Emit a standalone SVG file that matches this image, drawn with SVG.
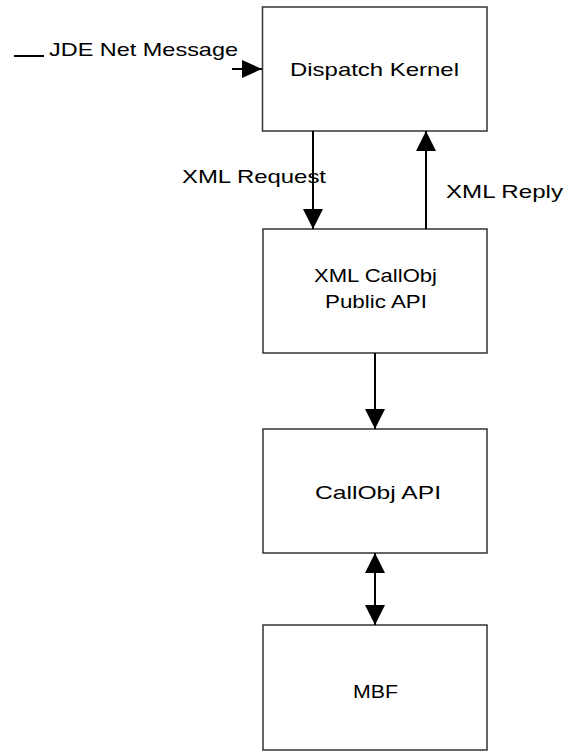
<svg xmlns="http://www.w3.org/2000/svg" width="566" height="751" viewBox="0 0 566 751">
<style>
.box{fill:#fff;stroke:#333;stroke-width:1.5}
.lbl{font-family:"Liberation Sans",Arial,sans-serif;font-size:18.5px;fill:#000}
.ln{stroke:#000;stroke-width:2;fill:none}
</style>
<defs>
<marker id="ah" markerUnits="userSpaceOnUse" markerWidth="20" markerHeight="20" refX="20" refY="10" viewBox="0 0 20 20" orient="auto-start-reverse">
<path d="M0,0 L20,10 L0,20 Z" fill="#000"/>
</marker>
<marker id="ahs" markerUnits="userSpaceOnUse" markerWidth="20" markerHeight="18" refX="20" refY="9" viewBox="0 0 20 18" orient="auto">
<path d="M0,0 L20,9 L0,18 Z" fill="#000"/>
</marker>
</defs>
<rect width="566" height="751" fill="#fff"/>
<g id="dispatch-kernel">
<rect class="box" x="262.5" y="7" width="224.5" height="124"/>
<text class="lbl" x="290" y="76" textLength="169" lengthAdjust="spacingAndGlyphs">Dispatch Kernel</text>
</g>
<g id="xml-callobj">
<rect class="box" x="263" y="229" width="224" height="124"/>
<text class="lbl" x="314" y="282" textLength="123" lengthAdjust="spacingAndGlyphs">XML CallObj</text>
<text class="lbl" x="325" y="308" textLength="102" lengthAdjust="spacingAndGlyphs">Public API</text>
</g>
<g id="callobj-api">
<rect class="box" x="263" y="429" width="224" height="124"/>
<text class="lbl" x="315" y="499" textLength="126" lengthAdjust="spacingAndGlyphs">CallObj API</text>
</g>
<g id="mbf">
<rect class="box" x="263" y="625" width="224" height="125"/>
<text class="lbl" x="353" y="698" textLength="45" lengthAdjust="spacingAndGlyphs">MBF</text>
</g>
<g id="connectors">
<line class="ln" x1="14" y1="56" x2="44" y2="56" stroke-width="1.5"/>
<text class="lbl" x="49" y="56" textLength="189" lengthAdjust="spacingAndGlyphs">JDE Net Message</text>
<line class="ln" x1="232" y1="69" x2="262" y2="69" marker-end="url(#ahs)"/>
<line class="ln" x1="313" y1="131" x2="313" y2="229" marker-end="url(#ah)"/>
<text class="lbl" x="182" y="183" textLength="144" lengthAdjust="spacingAndGlyphs">XML Request</text>
<line class="ln" x1="426" y1="229" x2="426" y2="131" stroke-width="1.5" marker-end="url(#ah)"/>
<text class="lbl" x="446" y="198" textLength="117" lengthAdjust="spacingAndGlyphs">XML Reply</text>
<line class="ln" x1="375" y1="353" x2="375" y2="429" marker-end="url(#ah)"/>
<line class="ln" x1="375" y1="553" x2="375" y2="625" marker-start="url(#ah)" marker-end="url(#ah)"/>
</g>
</svg>
